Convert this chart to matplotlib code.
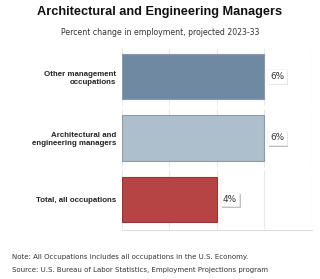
import matplotlib.pyplot as plt
import matplotlib.patheffects as pe

# data
categories = ["Other management\noccupations",
              "Architectural and\nengineering managers",
              "Total, all occupations"]
values = [6, 6, 4]
value_labels = ["6%", "6%", "4%"]
bar_colors = ["#7089a2", "#adbecc", "#b74445"]
edge_colors = ["#8a9aa8", "#8f9aa4", "#9a3436"]
grid_ticks = [0, 2, 4, 6, 8]

fig = plt.figure(figsize=(3.2, 2.79), dpi=100)
ax = fig.add_axes([0.381, 0.176, 0.594, 0.666])

ypos = list(range(len(categories)))

# vertical gridlines, broken between the category bands
for y in ypos:
    ax.vlines(grid_ticks, y - 0.47, y + 0.47, color="#e8e8e8", linewidth=0.8, zorder=0)

ax.barh(ypos, values, height=0.74, color=bar_colors, edgecolor=edge_colors,
        linewidth=0.8, zorder=2)

for y, v, lab in zip(ypos, values, value_labels):
    t = ax.annotate(lab, (v, y), xytext=(4, 0), textcoords="offset points",
                    ha="left", va="center", fontsize=6.4, color="#333333",
                    family="DejaVu Sans",
                    bbox=dict(boxstyle="square,pad=0.3", fc="white", ec="#eeeeee", lw=0.4))
    t.get_bbox_patch().set_path_effects([pe.SimplePatchShadow(offset=(1.2, -1.2), alpha=0.35),
                                         pe.Normal()])

ax.set_xlim(0, 8)
ax.set_ylim(2.5, -0.53)
ax.set_yticks(ypos)
ax.set_yticklabels(categories, fontsize=5.7, fontweight="bold", color="#222222",
                   family="Liberation Sans")
ax.tick_params(axis="y", length=0, pad=4)
ax.set_xticks([])

for s in ["top", "left", "right"]:
    ax.spines[s].set_visible(False)
ax.spines["bottom"].set_color("#dddddd")
ax.spines["bottom"].set_linewidth(0.8)

fig.text(0.5, 0.957, "Architectural and Engineering Managers", ha="center", va="center",
         fontsize=9.2, fontweight="bold", family="Liberation Sans", color="#111111")
fig.text(0.5, 0.882, "Percent change in employment, projected 2023-33", ha="center",
         va="center", fontsize=5.6, family="DejaVu Sans", color="#333333")

fig.text(0.038, 0.079, "Note: All Occupations includes all occupations in the U.S. Economy.",
         ha="left", va="center", fontsize=5.05, family="DejaVu Sans", color="#333333")
fig.text(0.038, 0.032, "Source: U.S. Bureau of Labor Statistics, Employment Projections program",
         ha="left", va="center", fontsize=5.05, family="DejaVu Sans", color="#333333")

fig.savefig("out.png", dpi=100)
